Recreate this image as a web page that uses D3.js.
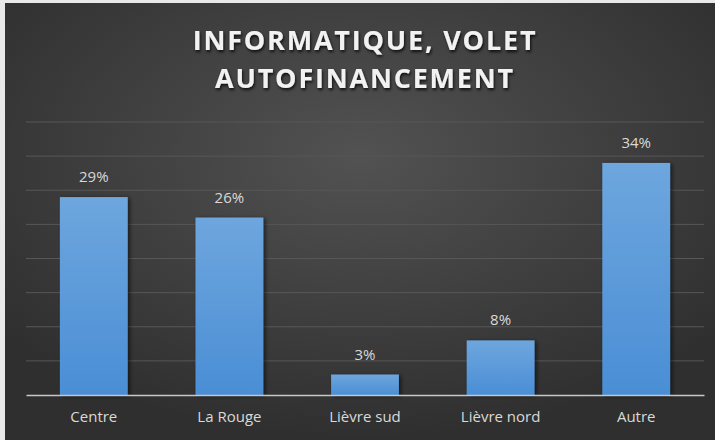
<!DOCTYPE html>
<html>
<head>
<meta charset="utf-8">
<script src="https://cdn.jsdelivr.net/npm/d3@7"></script>
<style>
  html, body { margin: 0; padding: 0; background: #e9e9e9; }
  #chart { position: absolute; left: 0; top: 0; }
</style>
</head>
<body>
<div id="chart"></div>
<script>
const categories = ["Centre", "La Rouge", "Lièvre sud", "Lièvre nord", "Autre"];
const values = [29, 26, 3, 8, 34];
const valueLabels = ["29%", "26%", "3%", "8%", "34%"];
const gridTicks = [0, 5, 10, 15, 20, 25, 30, 35, 40];
const titleLines = ["INFORMATIQUE, VOLET", "AUTOFINANCEMENT"];

const width = 715, height = 440;
const plot = { left: 26, right: 704, top: 122, bottom: 395 };

const svg = d3.select("#chart").append("svg")
  .attr("width", width)
  .attr("height", height);

const defs = svg.append("defs");

// dark radial background
const bg = defs.append("radialGradient")
  .attr("id", "bg")
  .attr("cx", "50%").attr("cy", "35%").attr("r", "65%");
bg.append("stop").attr("offset", "0%").attr("stop-color", "#525252");
bg.append("stop").attr("offset", "100%").attr("stop-color", "#2f2f2f");

const barGrad = defs.append("linearGradient")
  .attr("id", "bar")
  .attr("x1", 0).attr("y1", 0).attr("x2", 0).attr("y2", 1);
barGrad.append("stop").attr("offset", "0%").attr("stop-color", "#6ea6de");
barGrad.append("stop").attr("offset", "100%").attr("stop-color", "#4a8ed5");

const shadow = defs.append("filter").attr("id", "shadow")
  .attr("x", "-20%").attr("y", "-20%").attr("width", "140%").attr("height", "140%");
shadow.append("feDropShadow")
  .attr("dx", 2).attr("dy", 1).attr("stdDeviation", 2)
  .attr("flood-color", "#000").attr("flood-opacity", 0.6);

const titleShadow = defs.append("filter").attr("id", "tshadow")
  .attr("x", "-10%").attr("y", "-30%").attr("width", "120%").attr("height", "160%");
titleShadow.append("feDropShadow")
  .attr("dx", 1).attr("dy", 2).attr("stdDeviation", 1.5)
  .attr("flood-color", "#000").attr("flood-opacity", 0.8);

svg.append("rect")
  .attr("x", 5).attr("y", 3)
  .attr("width", width - 5).attr("height", height - 3)
  .attr("fill", "url(#bg)");

// scales
const x = d3.scaleBand()
  .domain(categories)
  .range([plot.left, plot.right])
  .paddingInner(0.5)
  .paddingOuter(0.25);

const y = d3.scaleLinear()
  .domain([0, 40])
  .range([plot.bottom, plot.top]);

// gridlines
svg.append("g")
  .selectAll("line")
  .data(gridTicks.slice(1))
  .enter()
  .append("line")
  .attr("x1", plot.left).attr("x2", plot.right)
  .attr("y1", d => y(d)).attr("y2", d => y(d))
  .attr("stroke", "#575757")
  .attr("stroke-width", 1);

// bars
svg.append("g")
  .selectAll("rect")
  .data(values)
  .enter()
  .append("rect")
  .attr("x", (d, i) => x(categories[i]))
  .attr("y", d => y(d))
  .attr("width", x.bandwidth())
  .attr("height", d => y(0) - y(d))
  .attr("fill", "url(#bar)")
  .attr("filter", "url(#shadow)");

// x axis
const xAxis = svg.append("g")
  .attr("transform", "translate(0," + y(0) + ")")
  .call(d3.axisBottom(x).tickSize(0).tickPadding(16));
xAxis.select(".domain").attr("stroke", "#c8c8c8").attr("stroke-width", 1.5);
xAxis.selectAll("text")
  .attr("fill", "#d9d9d9")
  .style("font-family", "'Open Sans', sans-serif")
  .style("font-size", "15px");

// value labels
svg.append("g")
  .selectAll("text")
  .data(values)
  .enter()
  .append("text")
  .attr("x", (d, i) => x(categories[i]) + x.bandwidth() / 2)
  .attr("y", d => y(d) - 15)
  .attr("text-anchor", "middle")
  .attr("fill", "#d9d9d9")
  .style("font-family", "'Open Sans', sans-serif")
  .style("font-size", "15px")
  .text((d, i) => valueLabels[i]);

// title
svg.append("g")
  .selectAll("text")
  .data(titleLines)
  .enter()
  .append("text")
  .attr("x", 365)
  .attr("y", (d, i) => 50 + i * 38)
  .attr("text-anchor", "middle")
  .attr("fill", "#f2f2f2")
  .attr("filter", "url(#tshadow)")
  .style("font-family", "'Open Sans', sans-serif")
  .style("font-weight", "700")
  .style("font-size", "27px")
  .style("letter-spacing", "1.8px")
  .text(d => d);
</script>
</body>
</html>
